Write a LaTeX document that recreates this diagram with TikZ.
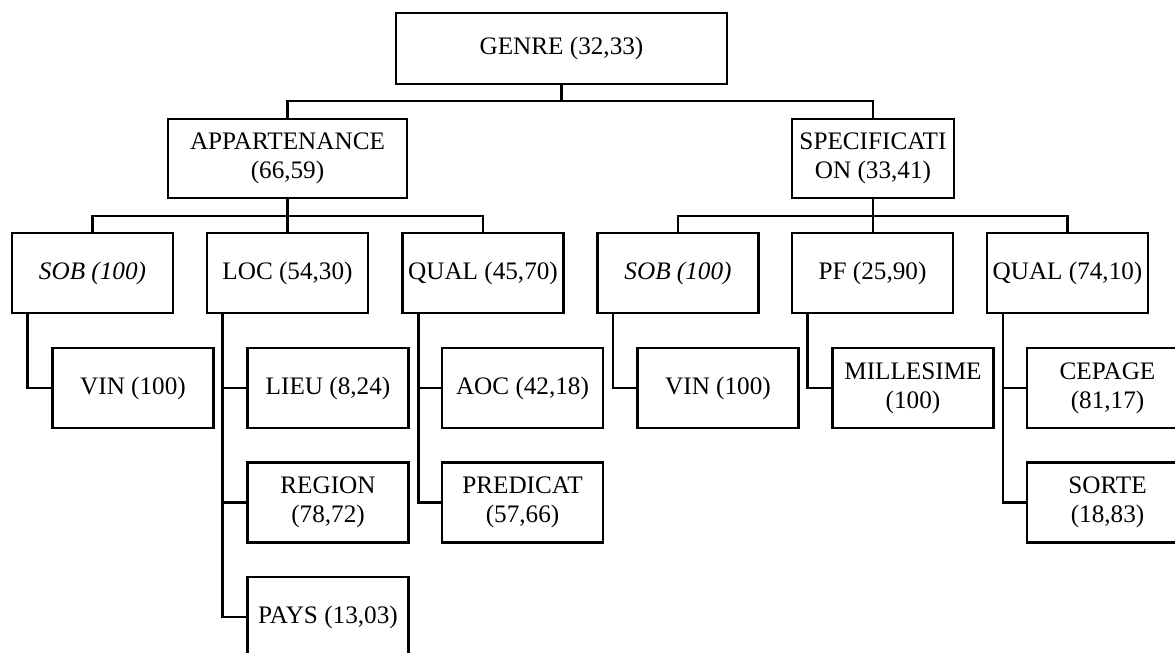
\documentclass[tikz,border=0pt]{standalone}
\usepackage{fontspec}
\setmainfont{Liberation Serif}
\begin{document}
\begin{tikzpicture}[x=0.5pt,y=-0.5pt,
  box/.style={draw, line width=1.25pt, inner sep=1pt, align=center,
    font=\fontsize{12.6}{14.5}\selectfont, minimum width=80.5pt, minimum height=40pt},
  conn/.style={line width=1.25pt}]
\useasboundingbox (0,0) rectangle (1175,653);
\clip (0,0) rectangle (1175,653);
% level 0
\node[box, minimum width=165.5pt, minimum height=35.5pt] (genre) at (561.5,48.5) {GENRE (32,33)};
% level 1
\node[box, minimum width=119.5pt, minimum height=39.5pt] (app) at (287.5,158.5) {APPARTENANCE\\(66,59)};
\node[box, minimum width=81pt, minimum height=39.5pt, inner sep=0pt] (spec) at (873,158.5) {SPECIFICATI\\ON (33,41)};
% level 2
\node[box] (sob1) at (92.5,273) {\textit{SOB (100)}};
\node[box] (loc) at (287.5,273) {LOC (54,30)};
\node[box] (qual1) at (483,273) {QUAL (45,70)};
\node[box] (sob2) at (678,273) {\textit{SOB (100)}};
\node[box] (pf) at (872.5,273) {PF (25,90)};
\node[box] (qual2) at (1067.5,273) {QUAL (74,10)};
% level 3
\node[box] (vin1) at (133,388) {VIN (100)};
\node[box] (lieu) at (328,388) {LIEU (8,24)};
\node[box] (region) at (328,502.5) {REGION\\(78,72)};
\node[box] (pays) at (328,617) {PAYS (13,03)};
\node[box] (aoc) at (522.5,388) {AOC (42,18)};
\node[box] (pred) at (522.5,502.5) {PREDICAT\\(57,66)};
\node[box] (vin2) at (718,388) {VIN (100)};
\node[box] (mill) at (913,388) {MILLESIME\\(100)};
\node[box] (cep) at (1107.5,388) {CEPAGE\\(81,17)};
\node[box] (sorte) at (1107.5,502.5) {SORTE\\(18,83)};
% junction levels
\coordinate (j0) at (0,101);
\coordinate (j1) at (0,216);
% connectors level 0 -> 1
\draw[conn] (genre.south) -- (genre.south |- j0);
\draw[conn] (app.north) -- (app.north |- j0) -- (spec.north |- j0) -- (spec.north);
% connectors level 1 -> 2
\draw[conn] (app.south) -- (loc.north);
\draw[conn] (sob1.north) -- (sob1.north |- j1) -- (qual1.north |- j1) -- (qual1.north);
\draw[conn] (spec.south) -- (spec.south |- pf.north);
\draw[conn] (sob2.north) -- (sob2.north |- j1) -- (qual2.north |- j1) -- (qual2.north);
% connectors level 2 -> 3
\draw[conn] ([xshift=8.25pt]sob1.south west) |- (vin1.west);
\draw[conn] ([xshift=8.25pt]loc.south west) |- (lieu.west);
\draw[conn] ([xshift=8.25pt]loc.south west) |- (region.west);
\draw[conn] ([xshift=8.25pt]loc.south west) |- (pays.west);
\draw[conn] ([xshift=8.5pt]qual1.south west) |- (aoc.west);
\draw[conn] ([xshift=8.5pt]qual1.south west) |- (pred.west);
\draw[conn] ([xshift=8.25pt]sob2.south west) |- (vin2.west);
\draw[conn] ([xshift=8.25pt]pf.south west) |- (mill.west);
\draw[conn] ([xshift=8.5pt]qual2.south west) |- (cep.west);
\draw[conn] ([xshift=8.5pt]qual2.south west) |- (sorte.west);
\end{tikzpicture}
\end{document}
